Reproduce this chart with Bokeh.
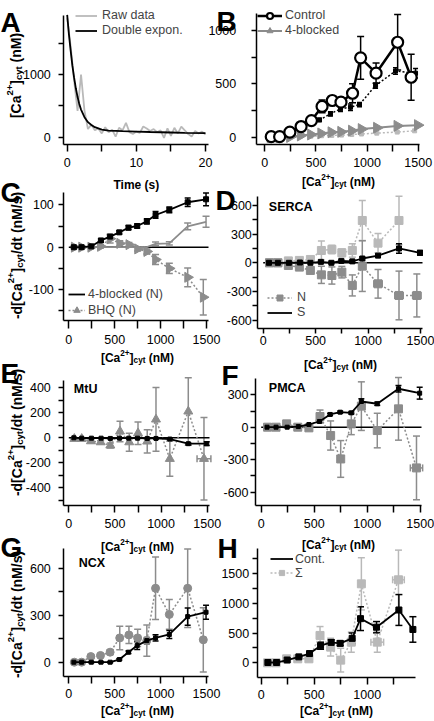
import numpy as np
from bokeh.plotting import figure
from bokeh.models import (ColumnDataSource, Whisker, TeeHead, Label, Legend,
                          LegendItem, FixedTicker, Range1d, LinearAxis)
from bokeh.embed import file_html
from bokeh.resources import INLINE

# ------------------------------------------------------------------ data
# Panel A : raw trace and double-exponential fit
time_raw = [0.0, 0.5, 1.0, 1.5, 2.0, 2.5, 3.0, 3.5, 4.0, 4.5, 5.0, 5.5, 6.0, 6.5,
            7.0, 7.5, 8.0, 8.5, 9.0, 9.5, 10.0, 10.5, 11.0, 11.5, 12.0, 12.5,
            13.0, 13.5, 14.0, 14.5, 15.0, 15.5, 16.0, 16.5, 17.0, 17.5, 18.0,
            18.5, 19.0, 19.5, 20.0]
ca_raw = [1900, 1450, 900, 420, 1000, 420, 130, 200, 110, 140, 60, 160, 80, 120,
          10, 150, 110, 230, 80, 50, 90, 70, 170, 140, 100, 130, 80, 110, -10,
          140, 20, 150, 60, 170, 110, 50, 10, 100, 60, 90, 40]
time_fit = [0.0, 0.25, 0.5, 0.75, 1.0, 1.25, 1.5, 1.75, 2.0, 2.5, 3.0, 3.5, 4.0,
            5.0, 6.0, 8.0, 10.0, 12.0, 15.0, 17.0, 20.0]
ca_fit = [1950, 1640, 1380, 1140, 950, 780, 640, 530, 440, 320, 240, 195, 160,
          120, 106, 97, 90, 83, 75, 70, 64]

# [Ca2+]cyt bin positions (nM)
ca_ctrl = [63, 145, 245, 355, 456, 560, 660, 745, 858, 937, 1088, 1299, 1431]
ca_s = [55, 140, 245, 350, 450, 550, 650, 745, 850, 945, 1095, 1295, 1495]
ca_n = [60, 140, 240, 345, 450, 555, 655, 750, 850, 945, 1095, 1295, 1465]
ca_dot = [60, 140, 240, 340, 440, 535, 642, 740, 838, 926, 1083, 1278, 1474]

# Panel B / H : control
control_rate = [5, 5, 47, 100, 156, 288, 344, 328, 412, 744, 600, 890, 562]
control_err = [10, 10, 12, 15, 20, 60, 45, 40, 90, 200, 95, 260, 215]
control_dot_rate = [0, 5, 40, 90, 140, 162, 219, 266, 281, 306, 484, 620, 600]
control_dot_err = [5, 5, 8, 10, 12, 15, 20, 25, 30, 20, 25, 30, 45]
blocked_dot_rate = [0, 0, 3, 6, 10, 14, 17, 20, 25, 30, 38, 48, 60]

# Panel B / C : 4-blocked
blocked_rate = [0, 0, 2, 16, 25, 35, 46, 50, 61, 76, 88, 106, 113]
blocked_err = [2, 2, 3, 4, 5, 4, 5, 5, 6, 8, 7, 10, 15]

# Panel C : BHQ
bhq_n_rate = [0, 0, 0, 2, 20, 9, 6, -4, -10, -29, -50, -71, -118]
bhq_n_err = [2, 2, 3, 4, 10, 6, 5, 5, 6, 12, 12, 22, 42]
bhq_s_rate = [0, 0, 0, 0, 0, 0, 0, 0, 0, 8, 9, 49, 60]
bhq_s_err = [0, 0, 0, 0, 0, 0, 0, 0, 0, 4, 4, 8, 13]

# Panel D : SERCA
serca_up_rate = [0, 0, 20, 25, 35, 129, 140, 105, 129, 443, 206, 443]
serca_up_err = [5, 5, 10, 10, 15, 100, 45, 40, 70, 210, 100, 255]
serca_n_rate = [0, 0, -28, -45, -80, -126, -133, -98, -237, -35, -220, -342, -342]
serca_n_err = [5, 5, 10, 15, 20, 90, 90, 60, 110, 265, 150, 255, 225]
serca_n_xerr = [40, 40, 40]
serca_s_rate = [0, 0, 0, 3, 0, 10, 0, 20, 15, 45, 75, 150, 105]
serca_s_err = [3, 3, 5, 5, 5, 8, 8, 10, 12, 15, 15, 50, 25]

# Panel E : MtU
mtu_n_rate = [-8, -8, -27, -35, -61, 51, -35, 37, -29, 147, -168, 211, -168]
mtu_n_err = [5, 5, 10, 12, 20, 82, 72, 90, 93, 255, 140, 270, 330]
mtu_n_xerr = [75]
mtu_s_rate = [0, -3, -3, -3, -5, -3, -3, -3, -5, -5, -10, -47, -47]
mtu_s_err = [3, 3, 3, 3, 3, 3, 3, 3, 4, 4, 5, 8, 15]

# Panel F : PMCA
pmca_n_rate = [0, 0, 31, 0, -6, 99, -77, -294, 31, 195, -31, 170, -377]
pmca_n_err = [5, 5, 10, 10, 15, 60, 135, 170, 100, 225, 160, 290, 295]
pmca_n_xerr = [58]
pmca_s_rate = [0, 0, 0, 6, 25, 53, 118, 139, 133, 238, 217, 356, 315]
pmca_s_err = [3, 3, 3, 4, 6, 8, 10, 10, 12, 25, 15, 30, 55]

# Panel G : NCX
ncx_n_rate = [0, 0, 36, 43, 64, 155, 174, 155, 138, 472, 305, 472, 143]
ncx_n_err = [5, 5, 10, 10, 15, 75, 55, 55, 100, 200, 95, 250, 205]
ncx_s_rate = [0, 0, 0, 0, 0, 17, 64, 106, 138, 155, 177, 291, 319]
ncx_s_err = [3, 3, 3, 3, 3, 5, 8, 25, 20, 20, 25, 55, 45]

# Panel H : sum of components
sum_rate = [0, 0, 67, 67, 67, 461, 264, 45, 348, 1331, 348, 1399]
sum_err = [10, 10, 20, 20, 25, 150, 150, 200, 170, 440, 170, 500]
sum_xerr = [60, 55]

# ticks
X_MAJ = [0, 500, 1000, 1500]
X_MIN = [250, 750, 1250]

# ------------------------------------------------------------------ layout
W, H = 434, 721
FONT = "Liberation Sans"
MGREY = "#8c8c8c"
LGREY = "#b9b9b9"

# per panel: pixel calibration (value, px, value, px) for x and y, axis pixel
# positions (y-axis x px, x-axis y px, x-axis right end px, y-axis top px)
PANELS = {
    "A": dict(x=(0, 66.7, 20, 205), y=(0, 136.7, 1000, 74), yax=63.3, xax=144,
              xend=208, ytop=15, ystand=8, xtick=7, xstand=6),
    "B": dict(x=(0, 264.3, 1500, 417.7), y=(0, 136.7, 1000, 30), yax=255.7, xax=144,
              xend=419, ytop=13, ystand=15, xtick=7, xstand=6),
    "C": dict(x=(0, 68.3, 1500, 206), y=(0, 246.7, 100, 204.3), yax=63.3, xax=320,
              xend=208, ytop=191.7, ystand=5, xtick=8, xstand=6),
    "D": dict(x=(0, 262.7, 1500, 420), y=(0, 262.3, 600, 205), yax=257.3, xax=328.3,
              xend=422, ytop=195.7, ystand=1, xtick=5, xstand=2),
    "E": dict(x=(0, 68.3, 1500, 206.7), y=(0, 437.3, 400, 387.3), yax=63.3, xax=505,
              xend=209, ytop=380, ystand=8, xtick=7, xstand=6),
    "F": dict(x=(0, 260.7, 1000, 366.7), y=(0, 426.7, 300, 394.3), yax=255, xax=505,
              xend=421, ytop=378.3, ystand=2, xtick=7, xstand=6),
    "G": dict(x=(0, 68.3, 1500, 206), y=(0, 661.7, 600, 567.7), yax=63.3, xax=675.7,
              xend=208, ytop=548.3, ystand=8, xtick=7, xstand=6),
    "H": dict(x=(0, 260.7, 1000, 366.7), y=(0, 662.3, 1500, 573.3), yax=256.7,
              xax=676.7, xend=415, ytop=548.3, ystand=3, xtick=7, xstand=6),
}


def val(m, px):
    v0, p0, v1, p1 = m
    return v0 + (px - p0) * (v1 - v0) / (p1 - p0)


p = figure(width=W, height=H, output_backend="svg", toolbar_location=None,
           x_range=Range1d(0, W), y_range=Range1d(H, 0),
           x_axis_type=None, y_axis_type=None,
           min_border_left=0, min_border_right=0, min_border_top=0,
           min_border_bottom=0)
p.title.visible = False
p.outline_line_color = None
p.background_fill_color = "white"
p.border_fill_color = "white"
p.grid.visible = False

for n, m in PANELS.items():
    p.extra_x_ranges[n] = Range1d(val(m["x"], 0), val(m["x"], W))
    p.extra_y_ranges[n] = Range1d(val(m["y"], H), val(m["y"], 0))


def style_axis(ax, tick_out, standoff):
    ax.axis_line_width = 1.5
    ax.axis_line_color = "black"
    ax.major_tick_line_width = 1.5
    ax.minor_tick_line_width = 1.5
    ax.major_tick_line_color = "black"
    ax.minor_tick_line_color = "black"
    ax.major_tick_in = 0
    ax.minor_tick_in = 0
    ax.major_tick_out = tick_out
    ax.minor_tick_out = tick_out
    ax.major_label_standoff = standoff
    ax.major_label_text_font = FONT
    ax.major_label_text_font_size = "12.5px"
    ax.major_label_text_color = "black"


def axes(n, xmaj, xmin, ymaj, ymin):
    m = PANELS[n]
    xa = LinearAxis(x_range_name=n, y_range_name=n,
                    fixed_location=val(m["y"], m["xax"]),
                    bounds=(val(m["x"], m["yax"]), val(m["x"], m["xend"])),
                    ticker=FixedTicker(ticks=xmaj, minor_ticks=xmin),
                    major_label_overrides={v: str(v) for v in xmaj})
    style_axis(xa, m["xtick"], m["xstand"])
    p.add_layout(xa, "below")
    ya = LinearAxis(x_range_name=n, y_range_name=n,
                    fixed_location=val(m["x"], m["yax"]),
                    bounds=(val(m["y"], m["xax"]), val(m["y"], m["ytop"])),
                    ticker=FixedTicker(ticks=ymaj, minor_ticks=ymin),
                    major_label_overrides={v: str(v) for v in ymaj})
    style_axis(ya, 5, m["ystand"])
    p.add_layout(ya, "left")


def line(n, x, y, color, width=1.8, dash="solid"):
    return p.line(x[:len(y)], y, line_color=color, line_width=width, line_dash=dash,
                  x_range_name=n, y_range_name=n)


def marks(n, x, y, marker, size, color, **kw):
    return p.scatter(x[:len(y)], y, marker=marker, size=size, color=color,
                     x_range_name=n, y_range_name=n, **kw)


def errbars(n, x, y, err, color, width=1.5, size=7):
    lo = [a - b for a, b in zip(y, err)]
    hi = [a + b for a, b in zip(y, err)]
    src = ColumnDataSource(dict(x=x[:len(y)], lo=lo, hi=hi))
    p.add_layout(Whisker(base="x", lower="lo", upper="hi", source=src,
                         x_range_name=n, y_range_name=n,
                         line_color=color, line_width=width,
                         upper_head=TeeHead(size=size, line_color=color, line_width=width),
                         lower_head=TeeHead(size=size, line_color=color, line_width=width)))


def xerrbars(n, x, y, err, color, width=1.5, size=7):
    k = len(err)
    xs, ys = x[len(y) - k:len(y)], y[-k:]
    lo = [a - b for a, b in zip(xs, err)]
    hi = [a + b for a, b in zip(xs, err)]
    src = ColumnDataSource(dict(y=ys, lo=lo, hi=hi))
    p.add_layout(Whisker(base="y", lower="lo", upper="hi", source=src,
                         dimension="width", x_range_name=n, y_range_name=n,
                         line_color=color, line_width=width,
                         upper_head=TeeHead(size=size, line_color=color, line_width=width),
                         lower_head=TeeHead(size=size, line_color=color, line_width=width)))


def zero(n):
    m = PANELS[n]
    p.line([0, val(m["x"], m["xend"])], [0, 0], line_color="black", line_width=1.5,
           x_range_name=n, y_range_name=n)


def legend(items, left, top, row_h, glyph_w, standoff):
    bottom = top + row_h * len(items)
    p.add_layout(Legend(items=[LegendItem(label=l, renderers=r) for l, r in items],
                        location=(left, H - bottom), border_line_color=None,
                        background_fill_alpha=0, label_text_font=FONT,
                        label_text_font_size="12.5px", glyph_width=glyph_w,
                        glyph_height=row_h, label_height=row_h, spacing=0, padding=0,
                        margin=0, label_standoff=standoff))


def text(t, x, y, size, bold=False, baseline="middle", angle=0.0):
    p.add_layout(Label(x=x, y=y, text=t, text_font=FONT, text_font_size=f"{size}px",
                       text_font_style="bold" if bold else "normal",
                       text_align="left", text_baseline=baseline, angle=angle,
                       text_color="black"))


BOLDW = {'[': 333, ']': 333, 'C': 722, 'a': 556, '2': 556, '+': 584, 'c': 556,
         'y': 556, 't': 333, ' ': 278, '(': 333, ')': 333, 'n': 611, 'M': 833,
         '-': 333, 'd': 611, '/': 278, 's': 556, 'T': 611, 'i': 278, 'm': 889,
         'e': 556}


def bw(s, size):
    return sum(BOLDW.get(ch, 556) for ch in s) * size / 1000.0


def rich(pieces, cx, cy, size, vertical=False):
    small = round(size * 0.68, 1)
    total = sum(bw(t, small if k else size) for t, k in pieces)
    pos = -total / 2
    for t, k in pieces:
        fs = small if k else size
        lead = len(t) - len(t.lstrip(" "))
        pos += bw(" " * lead, fs)
        t = t.lstrip(" ")
        shift = {None: 0.0, 'sup': 0.42 * size, 'sub': -0.24 * size}[k]
        if not vertical:
            text(t, cx + pos, cy + 0.36 * size - shift, fs, True, "alphabetic")
        else:
            text(t, cx + 0.36 * size - shift, cy - pos, fs, True, "alphabetic",
                 np.pi / 2)
        pos += bw(t, fs)


CA = [("[Ca", None), ("2+", "sup"), ("]", None), ("cyt", "sub"), (" (nM)", None)]
RATE = [("-d[Ca", None), ("2+", "sup"), ("]", None), ("cyt", "sub"),
        ("/dt (nM/s)", None)]

# ------------------------------------------------------------------ A
rA1 = line("A", time_raw, ca_raw, LGREY, 1.8)
rA2 = line("A", time_fit, ca_fit, "black", 1.8)
axes("A", [0, 10, 20], [5, 15], [0, 1000], [500, 1500])
legend([("Raw data", [rA1]), ("Double expon.", [rA2])], 75, 7.5, 15, 22, 5)

# ------------------------------------------------------------------ B
line("B", ca_n, blocked_dot_rate, LGREY, 1.5, "2 2")
marks("B", ca_n, blocked_dot_rate, "square", 4, LGREY)
rB2l = line("B", ca_s, blocked_rate, MGREY, 2)
rB2m = marks("B", ca_s, blocked_rate, "triangle", 11, MGREY, angle=-np.pi / 2)
errbars("B", ca_dot, control_dot_rate, control_dot_err, "black", 1.5, 5)
line("B", ca_dot, control_dot_rate, "black", 1.5, "2 2")
marks("B", ca_dot, control_dot_rate, "square", 4, "black")
errbars("B", ca_ctrl, control_rate, control_err, "black", 1.5, 7)
rB1l = line("B", ca_ctrl, control_rate, "black", 2.5)
rB1m = p.scatter(ca_ctrl, control_rate, marker="circle", size=11, fill_color="white",
                 line_color="black", line_width=2.2, x_range_name="B", y_range_name="B")
axes("B", X_MAJ, X_MIN, [0, 500, 1000], [250, 750])
legend([("Control", [rB1l, rB1m]), ("4-blocked", [rB2l, rB2m])], 257, 7.5, 15, 25, 3)

# ------------------------------------------------------------------ C
zero("C")
errbars("C", ca_s, bhq_s_rate, bhq_s_err, MGREY, 1.5, 7)
line("C", ca_s, bhq_s_rate, MGREY, 1.8)
errbars("C", ca_n, bhq_n_rate, bhq_n_err, MGREY, 1.5, 7)
rC2l = line("C", ca_n, bhq_n_rate, MGREY, 1.5, "2 2")
rC2m = marks("C", ca_n, bhq_n_rate, "triangle", 10, MGREY, angle=-np.pi / 2)
errbars("C", ca_s, blocked_rate, blocked_err, "black", 1.5, 6)
rC1 = line("C", ca_s, blocked_rate, "black", 1.8)
marks("C", ca_s, blocked_rate, "square", 5, "black")
axes("C", X_MAJ, X_MIN, [-100, 0, 100], [-150, -50, 50])
legend([("4-blocked (N)", [rC1]), ("BHQ (N)", [rC2l, rC2m])], 68, 286, 16, 17, 3)

# ------------------------------------------------------------------ D
zero("D")
errbars("D", ca_n, serca_up_rate, serca_up_err, LGREY, 1.5, 7)
line("D", ca_n, serca_up_rate, LGREY, 1.5, "2 2")
marks("D", ca_n, serca_up_rate, "square", 8, LGREY)
errbars("D", ca_n, serca_n_rate, serca_n_err, MGREY, 1.5, 7)
xerrbars("D", ca_n, serca_n_rate, serca_n_xerr, MGREY, 1.5, 7)
rD1l = line("D", ca_n, serca_n_rate, MGREY, 1.5, "2 2")
rD1m = marks("D", ca_n, serca_n_rate, "square", 8, MGREY)
errbars("D", ca_s, serca_s_rate, serca_s_err, "black", 1.5, 6)
rD2 = line("D", ca_s, serca_s_rate, "black", 1.8)
marks("D", ca_s, serca_s_rate, "square", 5, "black")
axes("D", X_MAJ, X_MIN, [-600, -300, 0, 300, 600], [-450, -150, 150, 450])
legend([("N", [rD1l, rD1m]), ("S", [rD2])], 267, 289.5, 15, 25, 5)

# ------------------------------------------------------------------ E
zero("E")
errbars("E", ca_n, mtu_n_rate, mtu_n_err, MGREY, 1.5, 7)
xerrbars("E", ca_n, mtu_n_rate, mtu_n_xerr, MGREY, 1.5, 7)
line("E", ca_n, mtu_n_rate, MGREY, 1.5, "2 2")
marks("E", ca_n, mtu_n_rate, "triangle", 9, MGREY)
errbars("E", ca_s, mtu_s_rate, mtu_s_err, "black", 1.5, 6)
line("E", ca_s, mtu_s_rate, "black", 1.8)
marks("E", ca_s, mtu_s_rate, "square", 4, "black")
axes("E", X_MAJ, X_MIN, [-400, -200, 0, 200, 400], [-500, -300, -100, 100, 300])

# ------------------------------------------------------------------ F
zero("F")
errbars("F", ca_n, pmca_n_rate, pmca_n_err, MGREY, 1.5, 7)
xerrbars("F", ca_n, pmca_n_rate, pmca_n_xerr, MGREY, 1.5, 7)
line("F", ca_n, pmca_n_rate, MGREY, 1.5, "2 2")
marks("F", ca_n, pmca_n_rate, "square", 8, MGREY)
errbars("F", ca_s, pmca_s_rate, pmca_s_err, "black", 1.5, 6)
line("F", ca_s, pmca_s_rate, "black", 1.8)
marks("F", ca_s, pmca_s_rate, "square", 4, "black")
axes("F", X_MAJ, X_MIN, [-600, -300, 0, 300], [-450, -150, 150])

# ------------------------------------------------------------------ G
errbars("G", ca_n, ncx_n_rate, ncx_n_err, MGREY, 1.5, 7)
line("G", ca_n, ncx_n_rate, MGREY, 1.5, "2 2")
marks("G", ca_n, ncx_n_rate, "circle", 8, MGREY)
errbars("G", ca_s, ncx_s_rate, ncx_s_err, "black", 1.5, 6)
line("G", ca_s, ncx_s_rate, "black", 1.8)
marks("G", ca_s, ncx_s_rate, "square", 4, "black")
axes("G", X_MAJ, X_MIN, [0, 300, 600], [150, 450])

# ------------------------------------------------------------------ H
errbars("H", ca_n, sum_rate, sum_err, LGREY, 1.5, 7)
xerrbars("H", ca_n, sum_rate, sum_xerr, LGREY, 1.5, 7)
rH2l = line("H", ca_n, sum_rate, LGREY, 1.5, "2 2")
rH2m = marks("H", ca_n, sum_rate, "square", 8, LGREY)
errbars("H", ca_ctrl, control_rate, control_err, "black", 1.5, 7)
rH1 = line("H", ca_ctrl, control_rate, "black", 1.8)
marks("H", ca_ctrl, control_rate, "square", 6, "black")
axes("H", [0, 500, 1000], X_MIN + [1250], [0, 500, 1000, 1500], [250, 750, 1250, 1750])
legend([("Cont.", [rH1]), ("Σ", [rH2l, rH2m])], 270, 553.5, 13, 23, 2)

# ------------------------------------------------------------------ texts
for t, x, y in [("A", 0, 22), ("B", 216, 21), ("C", 0, 192), ("D", 215, 200),
                ("E", 0, 373), ("F", 221, 375), ("G", 0, 547), ("H", 217, 548)]:
    text(t, x, y, 28, True, "alphabetic")

for t, x, y in [("SERCA", 268.3, 206.7), ("MtU", 73.3, 388), ("PMCA", 268.3, 387.7),
                ("NCX", 78.3, 562.3)]:
    text(t, x, y, 12.5, True, "middle")

rich([("Time (s)", None)], 136, 180, 12)
for cx, cy in [(338, 177), (137, 353), (340, 360), (137, 542), (338, 540),
               (137, 706), (336, 706)]:
    rich(CA, cx, cy, 12)

rich(CA, 10, 75, 14, vertical=True)
for cy in [255, 432, 614]:
    rich(RATE, 11, cy, 14, vertical=True)

open("out.html", "w").write(file_html(p, INLINE))
